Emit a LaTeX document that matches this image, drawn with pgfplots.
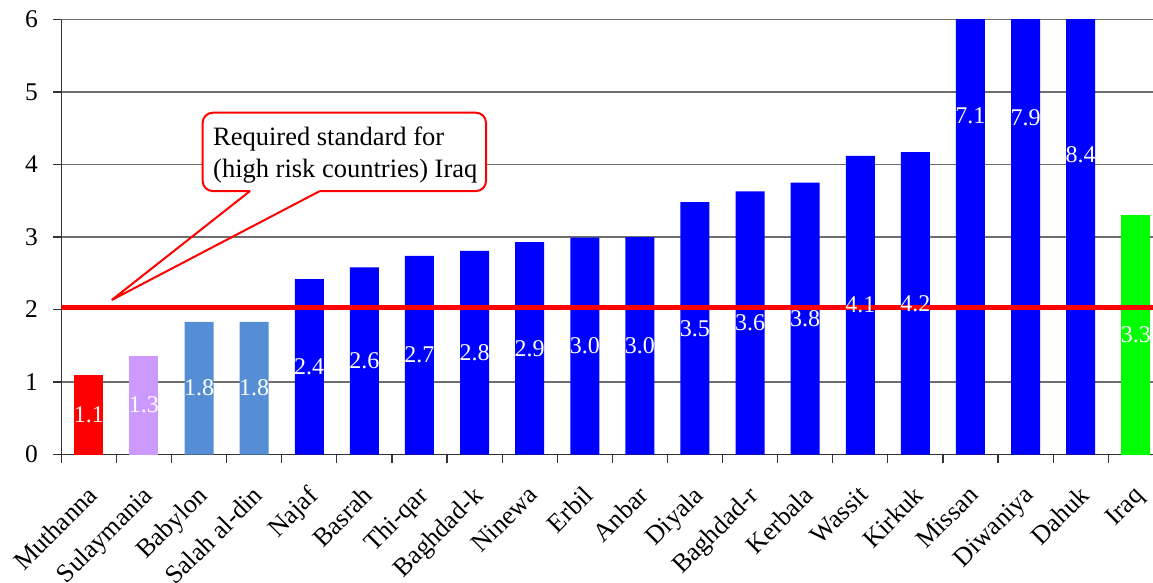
\documentclass[border=0pt]{standalone}
\usepackage{fontspec}
\setmainfont{Liberation Serif}
\usepackage{pgfplots}
\usepackage{pgfplotstable}
\pgfplotsset{compat=1.18}
\definecolor{lilac}{RGB}{204,153,255}
\definecolor{steel}{RGB}{85,142,213}
\definecolor{pureblue}{RGB}{0,0,255}
\definecolor{puregreen}{RGB}{0,255,0}
\definecolor{gridgray}{RGB}{110,110,110}
\pgfplotstableread{
x ly lab
0 0.55 1.1
1 0.68 1.3
2 0.915 1.8
3 0.915 1.8
4 1.21 2.4
5 1.29 2.6
6 1.37 2.7
7 1.405 2.8
8 1.465 2.9
9 1.495 3.0
10 1.50 3.0
11 1.74 3.5
12 1.815 3.6
13 1.875 3.8
14 2.06 4.1
15 2.085 4.2
16 4.67 7.1
17 4.65 7.9
18 4.13 8.4
19 1.65 3.3
}\labels
\begin{document}
\begin{tikzpicture}[x=1pt,y=1pt]
\useasboundingbox (-61.3,-127.5) rectangle (1091.7,454.5);
\begin{axis}[
  at={(0,0)}, anchor=south west,
  scale only axis, width=1102pt, height=435pt,
  xmin=-0.5, xmax=19.5, ymin=0, ymax=6,
  axis x line*=bottom, axis y line*=left,
  axis line style={line width=1.3pt, black!80},
  xtick={-0.5,0.5,...,19.5},
  xticklabels={Muthanna,Sulaymania,Babylon,Salah al-din,Najaf,Basrah,Thi-qar,Baghdad-k,Ninewa,Erbil,Anbar,Diyala,Baghdad-r,Kerbala,Wassit,Kirkuk,Missan,Diwaniya,Dahuk,Iraq},
  x tick label as interval,
  ytick={0,...,6},
  tick align=outside, major tick length=8pt,
  tick style={line width=1.2pt, black!80},
  ymajorgrids, grid style={gridgray, line width=1.1pt},
  yticklabel style={font=\fontsize{25.5}{30}\selectfont, xshift=-12pt},
  xticklabel style={font=\fontsize{26}{31}\selectfont, xshift=-3pt, yshift=-19pt, rotate=45, anchor=north east, inner sep=2pt},
  /pgf/number format/assume math mode=true,
  every node near coord/.append style={anchor=center, text=white, font=\fontsize{24}{28}\selectfont},
]
\addplot[ybar, bar width=29pt, bar shift=0pt, fill=red, draw=none] coordinates {(0,1.10)};
\addplot[ybar, bar width=29pt, bar shift=0pt, fill=lilac, draw=none] coordinates {(1,1.36)};
\addplot[ybar, bar width=29pt, bar shift=0pt, fill=steel, draw=none] coordinates {(2,1.83) (3,1.83)};
\addplot[ybar, bar width=29pt, bar shift=0pt, fill=pureblue, draw=none] coordinates {
(4,2.42) (5,2.58) (6,2.74) (7,2.81) (8,2.93) (9,2.99) (10,3.00) (11,3.48)
(12,3.63) (13,3.75) (14,4.12) (15,4.17) (16,7.1) (17,7.9) (18,8.4)};
\addplot[ybar, bar width=29pt, bar shift=0pt, fill=puregreen, draw=none] coordinates {(19,3.30)};
\addplot[draw=none, mark=none, nodes near coords, point meta=explicit symbolic] table[x=x, y=ly, meta=lab] {\labels};
\addplot[red, line width=5.5pt, mark=none] coordinates {(-0.5,2.03) (19.5,2.03)};
\fill[white, rounded corners=10pt] (axis cs:2.066,3.634) rectangle (axis cs:7.208,4.714);
\draw[red, line width=2pt, rounded corners=10pt] (axis cs:2.925,3.634) -- (axis cs:2.066,3.634) -- (axis cs:2.066,4.714) -- (axis cs:7.208,4.714) -- (axis cs:7.208,3.634) -- (axis cs:4.193,3.634);
\draw[red, line width=2pt] (axis cs:4.193,3.634) -- (axis cs:0.415,2.131) -- (axis cs:2.925,3.634);
\node[anchor=base west, inner sep=0pt, font=\fontsize{26.5}{31}\selectfont] at (axis cs:2.253,4.269) {Required standard for};
\node[anchor=base west, inner sep=0pt, font=\fontsize{26.5}{31}\selectfont] at (axis cs:2.253,3.814) {(high risk countries) Iraq};
\end{axis}
\end{tikzpicture}
\end{document}
